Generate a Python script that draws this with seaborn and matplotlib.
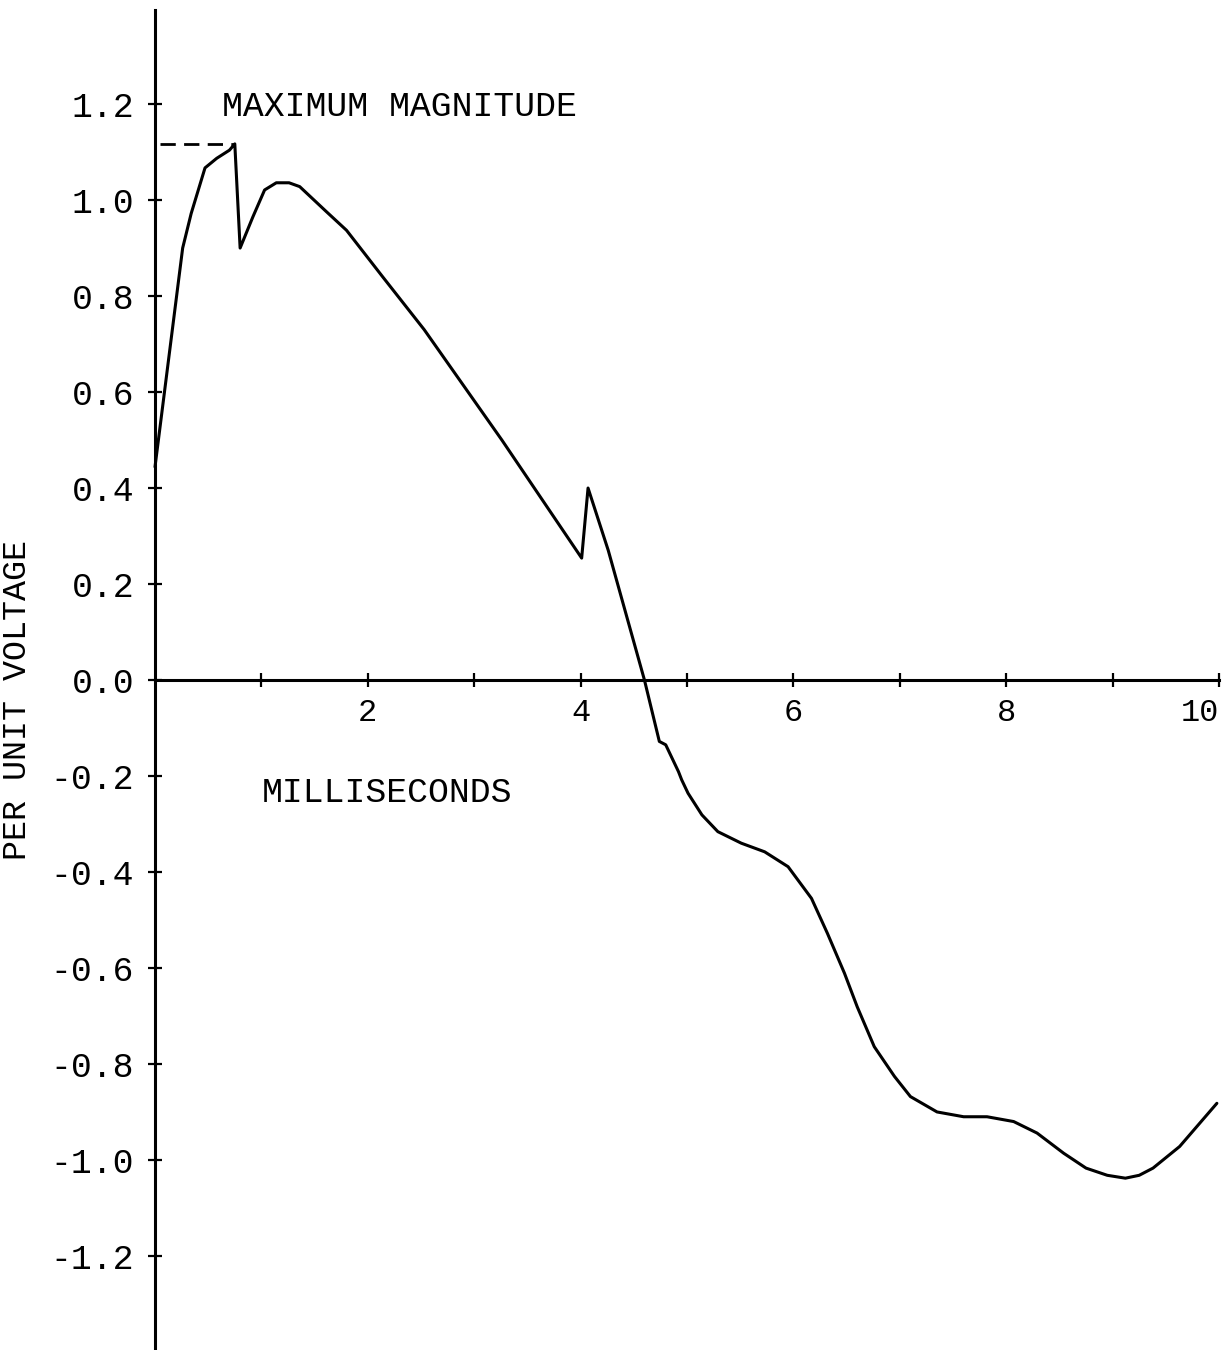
import matplotlib
matplotlib.use("Agg")
import matplotlib.pyplot as plt
import seaborn as sns
import pandas as pd

# ---- data ----
time_ms = [0.00, 0.26, 0.34, 0.47, 0.58, 0.70, 0.75, 0.80, 0.92, 1.03, 1.14, 1.26,
           1.36, 1.61, 1.80, 2.14, 2.53, 3.26, 4.01, 4.07, 4.26, 4.60, 4.74, 4.80,
           4.92, 4.95, 5.01, 5.14, 5.29, 5.51, 5.73, 5.95, 6.17, 6.32, 6.48, 6.60,
           6.76, 6.95, 7.10, 7.35, 7.60, 7.82, 8.07, 8.29, 8.54, 8.75, 8.95, 9.12,
           9.25, 9.38, 9.63, 9.98]
voltage_pu = [0.444, 0.900, 0.972, 1.067, 1.087, 1.104, 1.117, 0.900, 0.965, 1.021,
              1.036, 1.036, 1.028, 0.976, 0.937, 0.840, 0.730, 0.500, 0.254, 0.400,
              0.270, 0.000, -0.128, -0.135, -0.191, -0.208, -0.236, -0.281, -0.316,
              -0.340, -0.358, -0.389, -0.455, -0.528, -0.611, -0.681, -0.764, -0.826,
              -0.868, -0.900, -0.910, -0.910, -0.920, -0.944, -0.986, -1.017, -1.032,
              -1.038, -1.032, -1.017, -0.972, -0.882]

peak_time = 0.75
peak_value = 1.117

x_ticks = [1, 2, 3, 4, 5, 6, 7, 8, 9, 10]
x_tick_labels = ["", "2", "", "4", "", "6", "", "8", "", "10"]
y_ticks = [-1.2, -1.0, -0.8, -0.6, -0.4, -0.2, 0.0, 0.2, 0.4, 0.6, 0.8, 1.0, 1.2]
y_tick_labels = ["-1.2", "-1.0", "-0.8", "-0.6", "-0.4", "-0.2", "0.0",
                 "0.2", "0.4", "0.6", "0.8", "1.0", "1.2"]

x_label = "MILLISECONDS"
y_label = "PER UNIT VOLTAGE"
peak_label = "MAXIMUM MAGNITUDE"

# ---- style ----
sns.set_theme(style="white")
FAM = ["Liberation Mono", "DejaVu Sans"]
plt.rcParams["font.family"] = FAM
plt.rcParams["text.color"] = "black"

W, H = 1225, 1350
fig = plt.figure(figsize=(W / 100, H / 100), dpi=100)
ax = fig.add_axes([155 / W, 0.0, 1064 / W, 1340 / H])

df = pd.DataFrame({"t": time_ms, "v": voltage_pu})
sns.lineplot(data=df, x="t", y="v", sort=False, estimator=None,
             color="black", linewidth=2.2, ax=ax, clip_on=False)

ax.hlines(peak_value, 0.05, peak_time, colors="black", linewidth=2.0,
          linestyles=(0, (5.5, 3.0)))

ax.set_xlim(0, 10)
ax.set_ylim(-1.396, 1.396)

for s in ["top", "right"]:
    ax.spines[s].set_visible(False)
ax.spines["bottom"].set_position(("data", 0))
for s in ["left", "bottom"]:
    ax.spines[s].set_linewidth(2.2)
    ax.spines[s].set_color("black")

ax.set_xticks(x_ticks)
ax.set_xticklabels(x_tick_labels, family=FAM)
ax.set_yticks(y_ticks)
ax.set_yticklabels(y_tick_labels, family=FAM)
labels = ax.get_xticklabels()
labels[-1].set_horizontalalignment("right")

ax.tick_params(axis="both", bottom=True, left=True, direction="inout",
               length=10, width=1.6, color="black", labelcolor="black")
ax.tick_params(axis="x", pad=8, labelsize=23)
ax.tick_params(axis="y", pad=10, labelsize=25)

ax.set_xlabel("")
ax.set_ylabel("")

ax.text(1.0, -0.235, x_label, fontsize=25, ha="left", va="center", family=FAM)
ax.text(0.63, 1.194, peak_label, fontsize=25, ha="left", va="center", family=FAM)
fig.text(18 / W, 1 - 700 / H, y_label, fontsize=24, rotation=90,
         ha="center", va="center", family=FAM)

fig.savefig("out.png", dpi=100, facecolor="white")
